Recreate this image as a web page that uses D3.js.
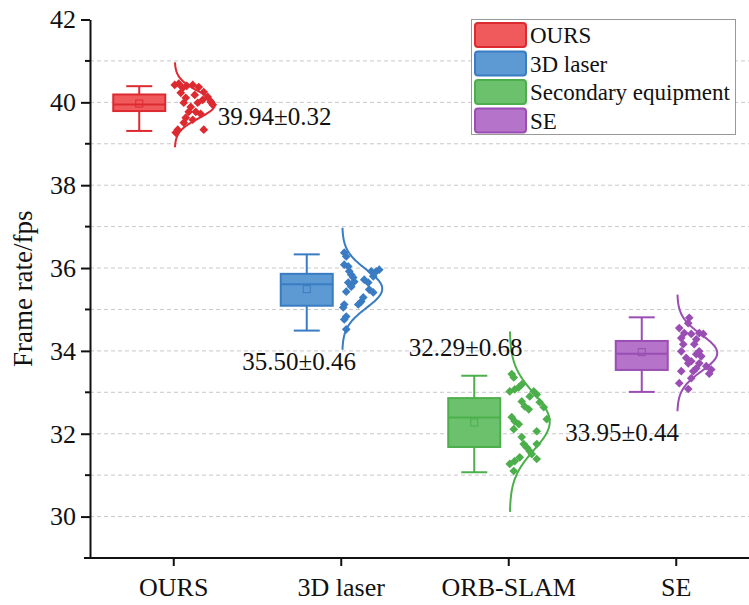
<!DOCTYPE html>
<html><head><meta charset="utf-8">
<script src="https://cdn.jsdelivr.net/npm/d3@7"></script>
<style>body{margin:0;background:#fff}svg{display:block;font-family:"Liberation Serif","Times New Roman",serif}</style>
</head><body><svg id="c" width="749" height="605"></svg>
<script>
const categories = ["OURS", "3D laser", "ORB-SLAM", "SE"];
const legendLabels = ["OURS", "3D laser", "Secondary equipment", "SE"];
const yTicks = [30, 32, 34, 36, 38, 40, 42];
const yMinorTicks = [31, 33, 35, 37, 39, 41];
const yGrid = [30, 31, 32, 33, 34, 35, 36, 37, 38, 39, 40, 41];
const means = [39.94, 35.50, 32.29, 33.95];
const sds = [0.32, 0.46, 0.68, 0.44];
// [min, q1, median, q3, max, mean marker]
const boxStats = [
  [39.31, 39.79, 39.95, 40.19, 40.39, 39.97],
  [34.49, 35.09, 35.61, 35.86, 36.33, 35.49],
  [31.07, 31.68, 32.39, 32.86, 33.40, 32.27],
  [33.01, 33.54, 33.93, 34.24, 34.81, 33.97]
];
const oursValues = [40.42,40.45,40.35,40.40,40.42,40.37,40.25,40.13,40.01,39.94,40.11,39.99,39.89,39.99,40.06,39.77,39.77,39.72,39.63,39.51,39.58,39.34,39.27,39.34,40.18,40.23];
const oursJitter = [0,4,8,12,18,24,29,33,36,38,11,9,16,23,28,14,21,26,11,9,18,3,1,29,20,6];
const laserValues = [36.37,36.28,36.08,36.04,35.92,35.84,35.77,35.67,35.65,35.43,35.55,35.72,35.65,35.92,35.92,35.96,35.80,35.48,35.41,35.19,35.12,35.29,35.12,35.05,34.83,34.76,34.52];
const laserJitter = [2,4,2,6,7,9,11,12,6,4,9,22,26,29,34,37,31,27,31,19,16,21,2,1,4,2,4];
const orbValues = [33.44,33.36,33.19,33.12,33.02,33.07,33.02,32.95,32.90,32.78,32.66,32.76,32.64,32.59,32.40,32.30,32.23,32.11,32.35,32.06,31.92,31.75,31.67,31.58,31.51,31.39,31.43,31.34,31.27,31.75,31.10];
const orbJitter = [2,4,12,9,0,5,24,27,20,12,15,30,34,19,2,5,9,4,37,27,12,14,17,20,22,27,10,5,0,27,4];
const seValues = [34.80,34.67,34.55,34.43,34.31,34.41,34.43,34.41,34.28,34.16,34.16,33.99,33.83,33.99,33.87,33.92,33.75,33.70,33.70,33.63,33.55,33.45,33.58,33.51,33.51,33.34,33.22,33.08];
const seJitter = [12,11,2,7,4,14,22,26,19,17,6,4,9,22,24,19,14,11,22,29,34,32,19,16,4,14,2,11];
const pointValues = [oursValues, laserValues, orbValues, seValues];
const pointJitter = [oursJitter, laserJitter, orbJitter, seJitter];

const fills = ["#f05a5c", "#5d9ad4", "#6cc26c", "#b574c9"];
const strokes = ["#dd2a30", "#3a7cc2", "#4caf4c", "#9a4db2"];
// label layout: [dx from category center, y value of text center]
const labelLayout = [[44, 39.67], [-99, 33.75], [-100, 34.08], [-111, 32.04]];

const svg = d3.select("#c");
const pLeft = 90, pRight = 760, pTop = 19.5, pBottom = 558;
const x = d3.scaleBand().domain(categories).range([pLeft, pRight]);
const y = d3.scaleLinear().domain([29, 42]).range([pBottom, pTop]);
const cx = c => x(c) + x.bandwidth() / 2;

// grid
svg.append("g").selectAll("line").data(yGrid).join("line")
  .attr("x1", pLeft).attr("x2", 749).attr("y1", d => y(d)).attr("y2", d => y(d))
  .attr("stroke", "#c8c8c8").attr("stroke-width", 1).attr("stroke-dasharray", "4,3");

// y axis
const ya = svg.append("g").attr("transform", `translate(${pLeft},0)`)
  .call(d3.axisLeft(y).tickValues(yTicks).tickSize(9).tickSizeOuter(0).tickPadding(5));
ya.select(".domain").attr("stroke", "#111").attr("stroke-width", 2);
ya.selectAll(".tick line").attr("stroke", "#111").attr("stroke-width", 2);
ya.selectAll(".tick text").attr("font-size", 26).attr("fill", "#111").attr("font-family", "Liberation Serif, serif");
svg.append("g").selectAll("line").data(yMinorTicks).join("line")
  .attr("x1", pLeft - 5).attr("x2", pLeft).attr("y1", d => y(d)).attr("y2", d => y(d))
  .attr("stroke", "#111").attr("stroke-width", 2);

// x axis
const xa = svg.append("g").attr("transform", `translate(0,${pBottom})`);
xa.append("line").attr("x1", 84).attr("x2", 749).attr("stroke", "#111").attr("stroke-width", 2);
xa.selectAll(".xt").data(categories).join("line").attr("class", "xt")
  .attr("x1", d => cx(d)).attr("x2", d => cx(d)).attr("y1", 0).attr("y2", 8)
  .attr("stroke", "#111").attr("stroke-width", 2);
xa.selectAll(".xl").data(categories).join("text").attr("class", "xl")
  .attr("x", d => cx(d)).attr("y", 38).attr("text-anchor", "middle")
  .attr("font-size", 26).attr("fill", "#111").text(d => d);

// y title
svg.append("text").attr("transform", `translate(32,${(pTop + pBottom) / 2}) rotate(-90)`)
  .attr("text-anchor", "middle").attr("font-size", 27).attr("fill", "#111").text("Frame rate/fps");

// boxes
const boxOff = -34.5, boxW = 52, capW = 26;
categories.forEach((c, i) => {
  const s = boxStats[i];
  const bx = cx(c) + boxOff;
  const g = svg.append("g");
  g.append("line").attr("x1", bx).attr("x2", bx).attr("y1", y(s[4])).attr("y2", y(s[3])).attr("stroke", strokes[i]).attr("stroke-width", 2);
  g.append("line").attr("x1", bx).attr("x2", bx).attr("y1", y(s[1])).attr("y2", y(s[0])).attr("stroke", strokes[i]).attr("stroke-width", 2);
  g.append("line").attr("x1", bx - capW / 2).attr("x2", bx + capW / 2).attr("y1", y(s[4])).attr("y2", y(s[4])).attr("stroke", strokes[i]).attr("stroke-width", 2);
  g.append("line").attr("x1", bx - capW / 2).attr("x2", bx + capW / 2).attr("y1", y(s[0])).attr("y2", y(s[0])).attr("stroke", strokes[i]).attr("stroke-width", 2);
  g.append("rect").attr("x", bx - boxW / 2).attr("width", boxW).attr("y", y(s[3])).attr("height", y(s[1]) - y(s[3]))
    .attr("fill", fills[i]).attr("stroke", strokes[i]).attr("stroke-width", 2);
  g.append("line").attr("x1", bx - boxW / 2).attr("x2", bx + boxW / 2).attr("y1", y(s[2])).attr("y2", y(s[2])).attr("stroke", strokes[i]).attr("stroke-width", 2);
  g.append("rect").attr("x", bx - 3.5).attr("y", y(s[5]) - 3.5).attr("width", 7).attr("height", 7)
    .attr("fill", "none").attr("stroke", strokes[i]).attr("stroke-width", 1);

  // normal curve
  const m = means[i], sd = sds[i];
  const zs = d3.range(-3.2, 3.2001, 0.05);
  const line = d3.line().x(z => cx(c) + 1 + 40 * Math.exp(-0.5 * z * z)).y(z => y(m + z * sd)).curve(d3.curveBasis);
  g.append("path").attr("d", line(zs)).attr("fill", "none").attr("stroke", strokes[i]).attr("stroke-width", 2);

  // points
  const sym = d3.symbol().type(d3.symbolSquare).size(38);
  g.selectAll(".pt").data(pointValues[i]).join("path").attr("class", "pt")
    .attr("d", sym)
    .attr("transform", (v, k) => `translate(${cx(c) + 1 + pointJitter[i][k]},${y(v)}) rotate(45)`)
    .attr("fill", strokes[i]);

  // label
  const L = labelLayout[i];
  svg.append("text").attr("x", cx(c) + L[0]).attr("y", y(L[1])).attr("dy", "0.35em")
    .attr("font-size", 25).attr("fill", "#111")
    .text(`${m.toFixed(2)}±${sd.toFixed(2)}`);
});

// legend
const lg = svg.append("g");
lg.append("rect").attr("x", 471.5).attr("y", 19.5).attr("width", 264).attr("height", 115)
  .attr("fill", "#fff").attr("stroke", "#999").attr("stroke-width", 1);
legendLabels.forEach((t, i) => {
  const yy = 23 + i * 28.5;
  lg.append("rect").attr("x", 475).attr("y", yy).attr("width", 51).attr("height", 24).attr("rx", 3)
    .attr("fill", fills[i]).attr("stroke", strokes[i]).attr("stroke-width", 2);
  lg.append("text").attr("x", 530).attr("y", yy + 12).attr("dy", "0.35em")
    .attr("font-size", 23).attr("fill", "#111").text(t);
});
</script></body></html>
